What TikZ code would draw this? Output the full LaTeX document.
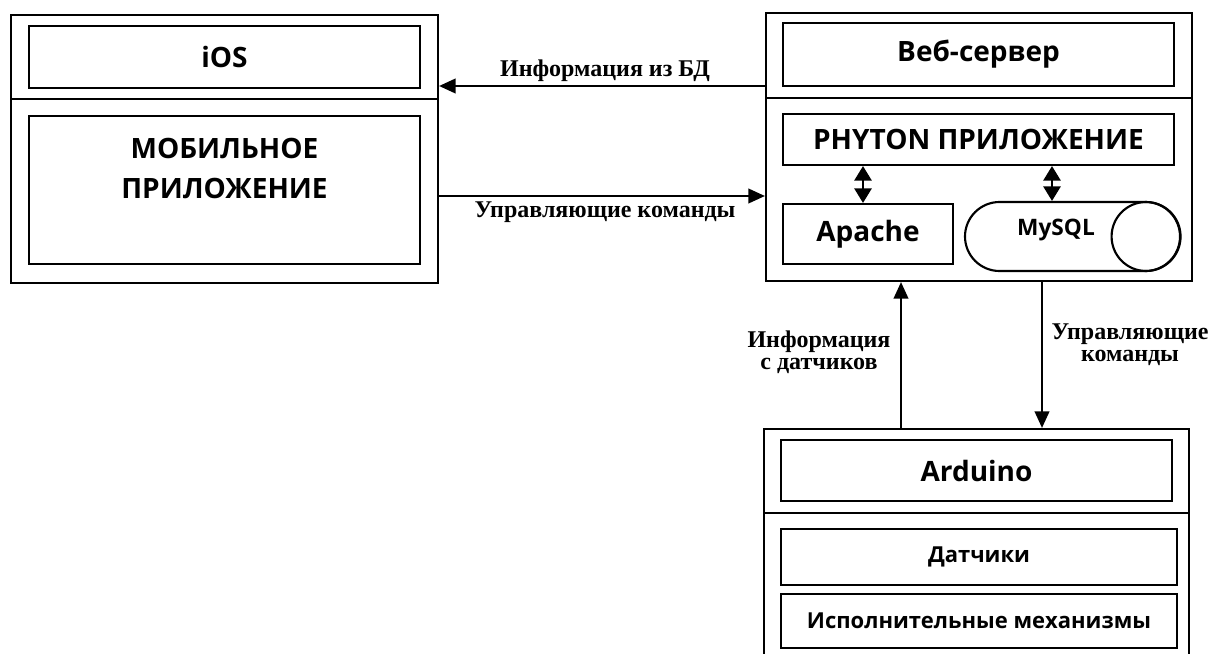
\documentclass[tikz,border=0pt]{standalone}
\usepackage{fontspec}
\setmainfont{Liberation Serif}
\newfontfamily\boxfont{Open Sans}
\usetikzlibrary{calc}
\usetikzlibrary{positioning}
\usetikzlibrary{shapes.geometric}
\usetikzlibrary{arrows.meta}
\tikzstyle{outerbox} = [draw, rectangle, line width=1.6pt, inner sep=0pt]
\tikzstyle{innerbox} = [draw, rectangle, line width=1.6pt, inner sep=0pt, align=center, font=\boxfont\bfseries\fontsize{21}{25}\selectfont]
\tikzstyle{smallbox} = [innerbox, font=\boxfont\bfseries\fontsize{16.5}{20}\selectfont]
\tikzstyle{dbnode} = [draw, rectangle, rounded corners=25.875pt, line width=1.6pt, inner sep=0pt]
\tikzstyle{dbend} = [draw, circle, line width=1.6pt, inner sep=0pt]
\tikzstyle{flowarrow} = [line width=1.6pt, -{Triangle[length=12.5pt,width=11pt]}]
\tikzstyle{duplex} = [line width=1.6pt, {Triangle[length=11pt,width=13pt]}-{Triangle[length=11pt,width=13pt]}]
\tikzstyle{flowlabel} = [align=center, inner sep=0pt, font=\bfseries\fontsize{18}{16.5}\selectfont]

\begin{document}
\begin{tikzpicture}[x=0.75pt, y=-0.75pt]
\useasboundingbox (0,0) rectangle (1213,653);
\clip (0,0) rectangle (1213,653);

% mobile side
\node[outerbox, minimum width=320.25pt, minimum height=201pt] (mob) at (224.5,149) {};
\draw[line width=1.6pt] (11,99) -- (438,99);
\node[innerbox, minimum width=293.25pt, minimum height=46.5pt] (ios) at (224.5,57) {iOS};
\node[innerbox, minimum width=293.25pt, minimum height=111pt] (mobapp) at (224.5,190) {};
\node[align=center, font=\boxfont\bfseries\fontsize{21}{30}\selectfont] (mobtext) at (224.5,168) {МОБИЛЬНОЕ\\ПРИЛОЖЕНИЕ};

% web server
\node[outerbox, minimum width=319.5pt, minimum height=201pt] (web) at (979,147) {};
\draw[line width=1.6pt] (766,98) -- (1192,98);
\node[innerbox, minimum width=293.25pt, minimum height=47.25pt] (webtitle) at (978.5,54.5) {Веб-сервер};
\node[innerbox, minimum width=293.25pt, minimum height=38.25pt] (phyton) at (978.5,139.5) {PHYTON ПРИЛОЖЕНИЕ};
\node[innerbox, minimum width=127.5pt, minimum height=45pt] (apache) at (868,234) {\raisebox{-2pt}{Apache}};
\node[dbnode, minimum width=161.25pt, minimum height=51.75pt] (mysql) at (1072.5,236.5) {};
\node[dbend, minimum size=51.75pt] (mysqlend) at ($(mysql.east)+(-35,0)$) {};
\node[font=\boxfont\bfseries\fontsize{17}{20}\selectfont] (mysqltext) at (1056,230) {MySQL};
\draw[duplex] (phyton.south -| 863,0) -- (apache.north -| 863,0);
\draw[duplex] (phyton.south -| 1052,0) -- (mysql.north -| 1052,0);

% arduino
\node[outerbox, minimum width=318.75pt, minimum height=188.25pt] (ard) at (976.5,554.5) {};
\draw[line width=1.6pt] (764,513) -- (1189,513);
\node[innerbox, minimum width=293.25pt, minimum height=45.75pt] (ardtitle) at (976.5,470.5) {Arduino};
\node[smallbox, minimum width=297pt, minimum height=42pt] (sensors) at (979,557) {Датчики};
\node[smallbox, minimum width=297pt, minimum height=40.5pt] (actuators) at (979,621) {Исполнительные механизмы};

% connectors
\draw[flowarrow] (web.west |- 0,86) -- (mob.east |- 0,86);
\draw[flowarrow] (mob.east |- 0,196) -- (web.west |- 0,196);
\draw[flowarrow] (ard.north -| 901,0) -- (web.south -| 901,0);
\draw[flowarrow] (web.south -| 1042,0) -- (ard.north -| 1042,0);

\node[flowlabel] (dbinfo) at (605,71) {Информация из БД};
\node[flowlabel] (cmdmob) at (605,212) {Управляющие команды};
\node[flowlabel] (sensinfo) at (819,352) {Информация\\с датчиков};
\node[flowlabel] (cmdard) at (1130,345) {Управляющие\\команды};
\end{tikzpicture}
\end{document}
